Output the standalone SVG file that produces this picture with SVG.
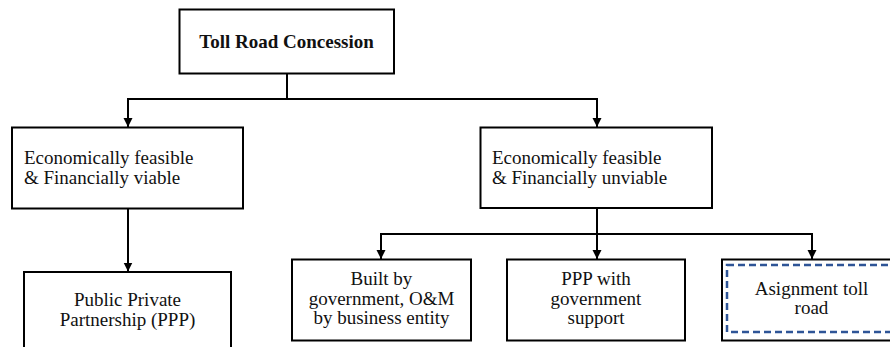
<svg xmlns="http://www.w3.org/2000/svg" width="890" height="347" viewBox="0 0 890 347">
  <defs>
    <marker id="arrow" viewBox="0 0 10 10" refX="10" refY="5" markerWidth="9" markerHeight="10" markerUnits="userSpaceOnUse" orient="auto">
      <path d="M0,0 L10,5 L0,10 z" fill="#000"/>
    </marker>
    <style>
      .box { fill: #fff; stroke: #000; stroke-width: 2; }
      .dash { fill: none; stroke: #2F5597; stroke-width: 2.5; stroke-dasharray: 7 4; }
      .conn { fill: none; stroke: #000; stroke-width: 2; }
      .arr { marker-end: url(#arrow); }
      text { font-family: 'Liberation Serif', 'DejaVu Serif', serif; font-size: 19px; fill: #111; }
      .title { font-weight: bold; }
      .c { text-anchor: middle; }
    </style>
  </defs>
  <rect width="890" height="347" fill="#fff"/>

  <g id="connectors">
    <path class="conn" d="M287,73 V99"/>
    <path class="conn arr" d="M287,99 H128 V127"/>
    <path class="conn arr" d="M287,99 H597 V127"/>
    <path class="conn arr" d="M128,209 V271.5"/>
    <path class="conn" d="M597,208 V234"/>
    <path class="conn arr" d="M597,234 H381 V259"/>
    <path class="conn arr" d="M597,234 V259"/>
    <path class="conn arr" d="M597,234 H812 V259"/>
  </g>

  <g id="node-toll-road-concession">
    <rect class="box" x="179.5" y="9.5" width="214.5" height="64"/>
    <text class="title c" x="286.5" y="48" font-family="Liberation Serif, serif">Toll Road Concession</text>
  </g>

  <g id="node-viable">
    <rect class="box" x="12" y="127.5" width="231" height="81"/>
    <text x="24" y="164">Economically feasible</text>
    <text x="24" y="184">&amp; Financially viable</text>
  </g>

  <g id="node-unviable">
    <rect class="box" x="480.5" y="127.5" width="231.5" height="80.5"/>
    <text x="492" y="164">Economically feasible</text>
    <text x="492" y="184">&amp; Financially unviable</text>
  </g>

  <g id="node-ppp">
    <rect class="box" x="24" y="272" width="207" height="90"/>
    <text class="c" x="127.5" y="306">Public Private</text>
    <text class="c" x="127.5" y="326">Partnership (PPP)</text>
  </g>

  <g id="node-built-by-government">
    <rect class="box" x="292" y="259.5" width="179" height="81"/>
    <text class="c" x="381.5" y="285">Built  by</text>
    <text class="c" x="381.5" y="304.5">government, O&amp;M</text>
    <text class="c" x="381.5" y="324">by business entity</text>
  </g>

  <g id="node-ppp-government-support">
    <rect class="box" x="507" y="259.5" width="178" height="81"/>
    <text class="c" x="596" y="285">PPP with</text>
    <text class="c" x="596" y="304.5">government</text>
    <text class="c" x="596" y="324">support</text>
  </g>

  <g id="node-assignment">
    <rect class="box" x="722" y="259.5" width="180" height="81"/>
    <rect class="dash" x="727" y="265" width="170" height="67"/>
    <text class="c" x="811.5" y="295">Asignment toll</text>
    <text class="c" x="811.5" y="314">road</text>
  </g>
</svg>
